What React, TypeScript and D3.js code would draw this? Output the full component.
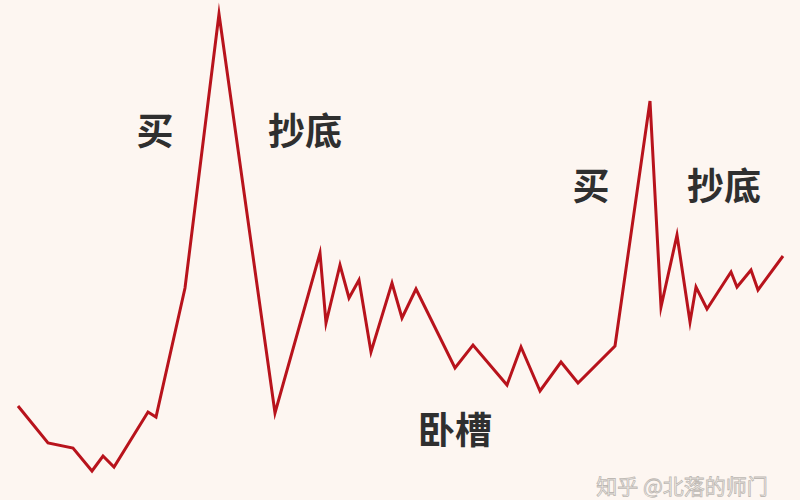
import React from "react";
import * as d3 from "d3";

const times = [18, 48, 73, 92, 103, 114, 148, 156, 185, 219, 275, 320, 326, 340, 349, 359, 371, 392, 402, 416, 455, 473, 507, 521, 540, 561, 578, 615, 650, 661, 677, 690, 696, 707, 731, 737, 751, 758, 783];
const prices = [94, 57, 52, 29, 44, 33, 88, 83, 212, 486, 87, 247, 177, 235, 202, 220, 148, 217, 182, 211, 132, 155, 115, 153, 109, 138, 117, 154, 399, 193, 265, 178, 213, 191, 228, 213, 230, 210, 244];

const labels = ["买", "抄底", "卧槽", "买", "抄底"];
const labelTimes = [155, 305, 455, 591, 724];
const labelPrices = [355, 355, 56, 300, 300];

const W = 800;
const H = 500;

export default function App() {
  const x = d3.scaleLinear().domain([0, 800]).range([0, W]);
  const y = d3.scaleLinear().domain([0, 500]).range([H, 0]);
  const pts = times.map((t, i) => [t, prices[i]] as [number, number]);
  const line = d3
    .line<[number, number]>()
    .x((d) => x(d[0]))
    .y((d) => y(d[1]));

  return (
    <svg
      width={W}
      height={H}
      style={{ position: "fixed", left: 0, top: 0, display: "block" }}
    >
      <rect x={0} y={0} width={W} height={H} fill="#fdf6f1" />
      <path
        d={line(pts) || ""}
        fill="none"
        stroke="#b8131c"
        strokeWidth={3}
        strokeLinejoin="miter"
        strokeMiterlimit={10}
      />
      {labels.map((l, i) => (
        <text
          key={i}
          x={x(labelTimes[i])}
          y={y(labelPrices[i])}
          textAnchor="middle"
          fontFamily="'Noto Sans CJK SC', sans-serif"
          fontWeight={700}
          fontSize={37}
          fill="#2f2f2f"
        >
          {l}
        </text>
      ))}
      <text
        x={682}
        y={494}
        textAnchor="middle"
        fontFamily="'Noto Sans CJK SC', sans-serif"
        fontSize={21}
        fill="#f7f3ef"
        stroke="#bdb8b3"
        strokeWidth={0.8}
      >
        知乎 @北落的师门
      </text>
    </svg>
  );
}
